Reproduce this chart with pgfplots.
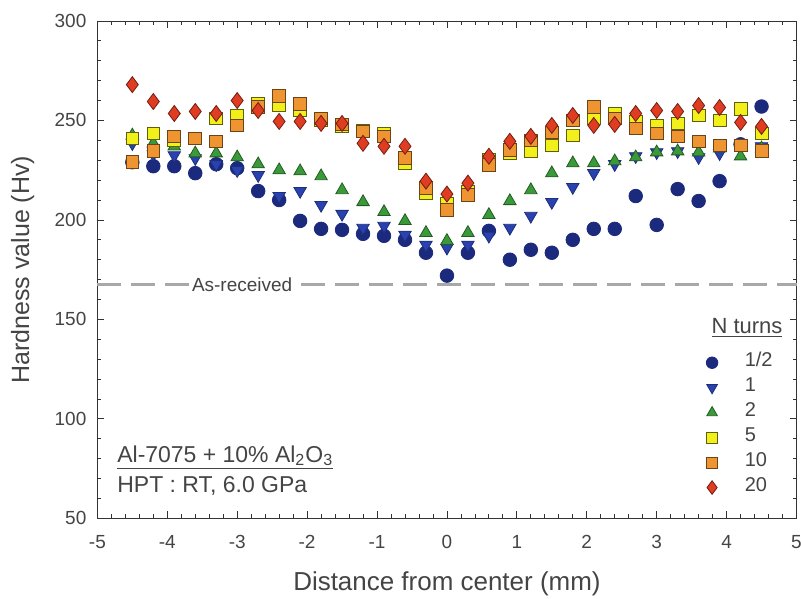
\documentclass[border=0pt]{standalone}
\usepackage{pgfplots}
\pgfplotsset{compat=1.18}
\usepackage{fontspec}
\setmainfont{Liberation Sans}
\definecolor{navy}{HTML}{1C2A7E}
\definecolor{bluetri}{HTML}{2A42B0}
\definecolor{greentri}{HTML}{3A9A3A}
\definecolor{yellowsq}{HTML}{F2F01A}
\definecolor{orangesq}{HTML}{EE9430}
\definecolor{reddia}{HTML}{E03C22}
\definecolor{txt}{HTML}{444444}
\definecolor{dashgray}{HTML}{A8A8A8}

\begin{document}
\begin{tikzpicture}
\begin{axis}[
  name=ax,
  scale only axis, width=350pt, height=249pt,
  xmin=-5, xmax=5, ymin=50, ymax=300,
  xtick={-5,...,5}, ytick={50,100,...,300},
  minor x tick num=4, minor y tick num=4,
  tick align=inside, axis line style={black!80},
  major tick length=3.5pt, minor tick length=2pt,
  every tick/.style={black!80},
  tick label style={font=\fontsize{9.5}{11}\selectfont, text=txt},
  xticklabel style={yshift=-4.9pt},
  yticklabel style={xshift=-2pt},
  /pgf/number format/assume math mode=true,
  xlabel={Distance from center (mm)},
  ylabel={Hardness value (Hv)},
  xlabel style={font=\fontsize{13}{15}\selectfont, text=txt,
                at={(axis description cs:0.5,-0.132)}, anchor=center},
  ylabel style={font=\fontsize{12.5}{14}\selectfont, text=txt,
                at={(axis description cs:-0.1067,0.5)}, anchor=center},
  legend style={draw=none, fill=none, inner sep=0pt, outer sep=0pt,
                at={(0.871,0.338)}, anchor=north west,
                font=\fontsize{10}{11}\selectfont, text=txt, row sep=0pt,
                nodes={inner sep=0pt, text height=8pt, text depth=4.5pt},
                /tikz/every odd column/.append style={column sep=13.5pt}},
  legend cell align=left,
  legend image post style={every mark/.append style={scale=0.85}},
  clip=false,
]
% as-received reference line
\addplot[dashgray, line width=1.1pt, dash pattern=on 12pt off 5pt, forget plot]
  coordinates {(-5,167.5)(5,167.5)};
\node[fill=white, inner sep=1pt, text=txt, font=\fontsize{9.5}{11}\selectfont]
  at (axis cs:-2.93,167.5) {As-received};

% N = 1/2
\addplot[only marks, mark=*, mark size=3.4pt, mark options={fill=navy, draw=navy}]
  coordinates {
  (-4.5,229)(-4.2,227)(-3.9,227)(-3.6,223.5)(-3.3,228)(-3.0,226)(-2.7,214.5)(-2.4,210)
  (-2.1,199.5)(-1.8,195.5)(-1.5,195)(-1.2,193)(-0.9,192)(-0.6,190)(-0.3,183.5)(0,172)
  (0.3,183.5)(0.6,194.5)(0.9,180)(1.2,185)(1.5,183.5)(1.8,190)(2.1,195.5)(2.4,195.5)
  (2.7,212)(3.0,197.5)(3.3,215.5)(3.6,209.5)(3.9,219.5)(4.2,238)(4.5,257)};
\addlegendentry{1/2}
% N = 1
\addplot[only marks, mark=triangle*, mark size=3.6pt,
  mark options={rotate=180, fill=bluetri, draw=bluetri!70!black}]
  coordinates {
  (-4.5,238.5)(-4.2,233)(-3.9,232.5)(-3.6,231)(-3.3,228)(-3.0,225)(-2.7,222.5)(-2.4,212)
  (-2.1,214.5)(-1.8,207.5)(-1.5,203)(-1.2,196)(-0.9,197)(-0.6,192.5)(-0.3,187.5)(0,186)
  (0.3,187.5)(0.6,192)(0.9,196)(1.2,202)(1.5,209)(1.8,216.5)(2.1,223.5)(2.4,228)
  (2.7,232)(3.0,234)(3.3,234.5)(3.6,231.5)(3.9,233.5)(4.2,236)(4.5,237)};
\addlegendentry{1}
% N = 2
\addplot[only marks, mark=triangle*, mark size=3.6pt,
  mark options={fill=greentri, draw=greentri!60!black}]
  coordinates {
  (-4.5,242.5)(-4.2,238.5)(-3.9,237)(-3.6,233.5)(-3.3,233.5)(-3.0,231.5)(-2.7,228)(-2.4,225)
  (-2.1,224.5)(-1.8,222)(-1.5,215)(-1.2,209)(-0.9,204)(-0.6,199.5)(-0.3,193.5)(0,189.5)
  (0.3,193.5)(0.6,202.5)(0.9,209.5)(1.2,215)(1.5,223.5)(1.8,228.5)(2.1,228.5)(2.4,229.5)
  (2.7,231.5)(3.0,234)(3.3,234.5)(3.6,234)(3.9,236)(4.2,232)(4.5,236)};
\addlegendentry{2}
% N = 5
\addplot[only marks, mark=square*, mark size=3.2pt,
  mark options={fill=yellowsq, draw=yellowsq!40!black}]
  coordinates {
  (-4.5,241)(-4.2,243.5)(-3.9,240)(-3.6,241)(-3.3,251)(-3.0,252.5)(-2.7,258.5)(-2.4,258)
  (-2.1,255)(-1.8,250)(-1.5,247)(-1.2,245)(-0.9,243.5)(-0.6,228.5)(-0.3,213.5)(0,208)
  (0.3,214)(0.6,230)(0.9,233.5)(1.2,234.5)(1.5,237.5)(1.8,242.5)(2.1,251)(2.4,253.5)
  (2.7,249.5)(3.0,247.5)(3.3,248.5)(3.6,252.5)(3.9,250)(4.2,256)(4.5,243.5)};
\addlegendentry{5}
% N = 10
\addplot[only marks, mark=square*, mark size=3.2pt,
  mark options={fill=orangesq, draw=orangesq!45!black}]
  coordinates {
  (-4.5,229)(-4.2,234.5)(-3.9,242)(-3.6,241)(-3.3,239.5)(-3.0,247.5)(-2.7,257)(-2.4,262.5)
  (-2.1,258.5)(-1.8,251)(-1.5,248)(-1.2,244.5)(-0.9,242)(-0.6,231)(-0.3,216)(0,205)
  (0.3,212.5)(0.6,227.5)(0.9,235)(1.2,240)(1.5,244)(1.8,250)(2.1,257)(2.4,251)
  (2.7,246)(3.0,243.5)(3.3,242)(3.6,239.5)(3.9,237.5)(4.2,237.5)(4.5,234.5)};
\addlegendentry{10}
% N = 20
\addplot[only marks, mark=diamond*, mark size=4pt,
  mark options={fill=reddia, draw=reddia!50!black}]
  coordinates {
  (-4.5,268)(-4.2,259.5)(-3.9,253.5)(-3.6,254.5)(-3.3,253.5)(-3.0,260)(-2.7,255)(-2.4,249.5)
  (-2.1,249.5)(-1.8,248.5)(-1.5,248.5)(-1.2,238.5)(-0.9,237)(-0.6,237)(-0.3,219.5)(0,213)
  (0.3,218.5)(0.6,232)(0.9,239.5)(1.2,242)(1.5,247.5)(1.8,252.5)(2.1,247.5)(2.4,248)
  (2.7,253.5)(3.0,255)(3.3,254.5)(3.6,257.5)(3.9,256.5)(4.2,249)(4.5,247)};
\addlegendentry{20}

\node[anchor=west, text=txt, font=\fontsize{11}{13}\selectfont, inner sep=0pt]
  at (axis cs:3.78,145.5) {\underline{N turns}};
\node[anchor=west, text=txt, font=\fontsize{11.5}{13}\selectfont, inner sep=0pt]
  at (axis cs:-4.72,80.5) {\underline{Al-7075 + 10\% Al\textsubscript{2}O\textsubscript{3}}};
\node[anchor=west, text=txt, font=\fontsize{11.5}{13}\selectfont, inner sep=0pt]
  at (axis cs:-4.72,66.5) {HPT : RT, 6.0 GPa};
\end{axis}
\pgfresetboundingbox
\path ([shift={(-48.75pt,-40pt)}]ax.south west) rectangle ([shift={(2.25pt,10.5pt)}]ax.north east);
\end{tikzpicture}
\end{document}
